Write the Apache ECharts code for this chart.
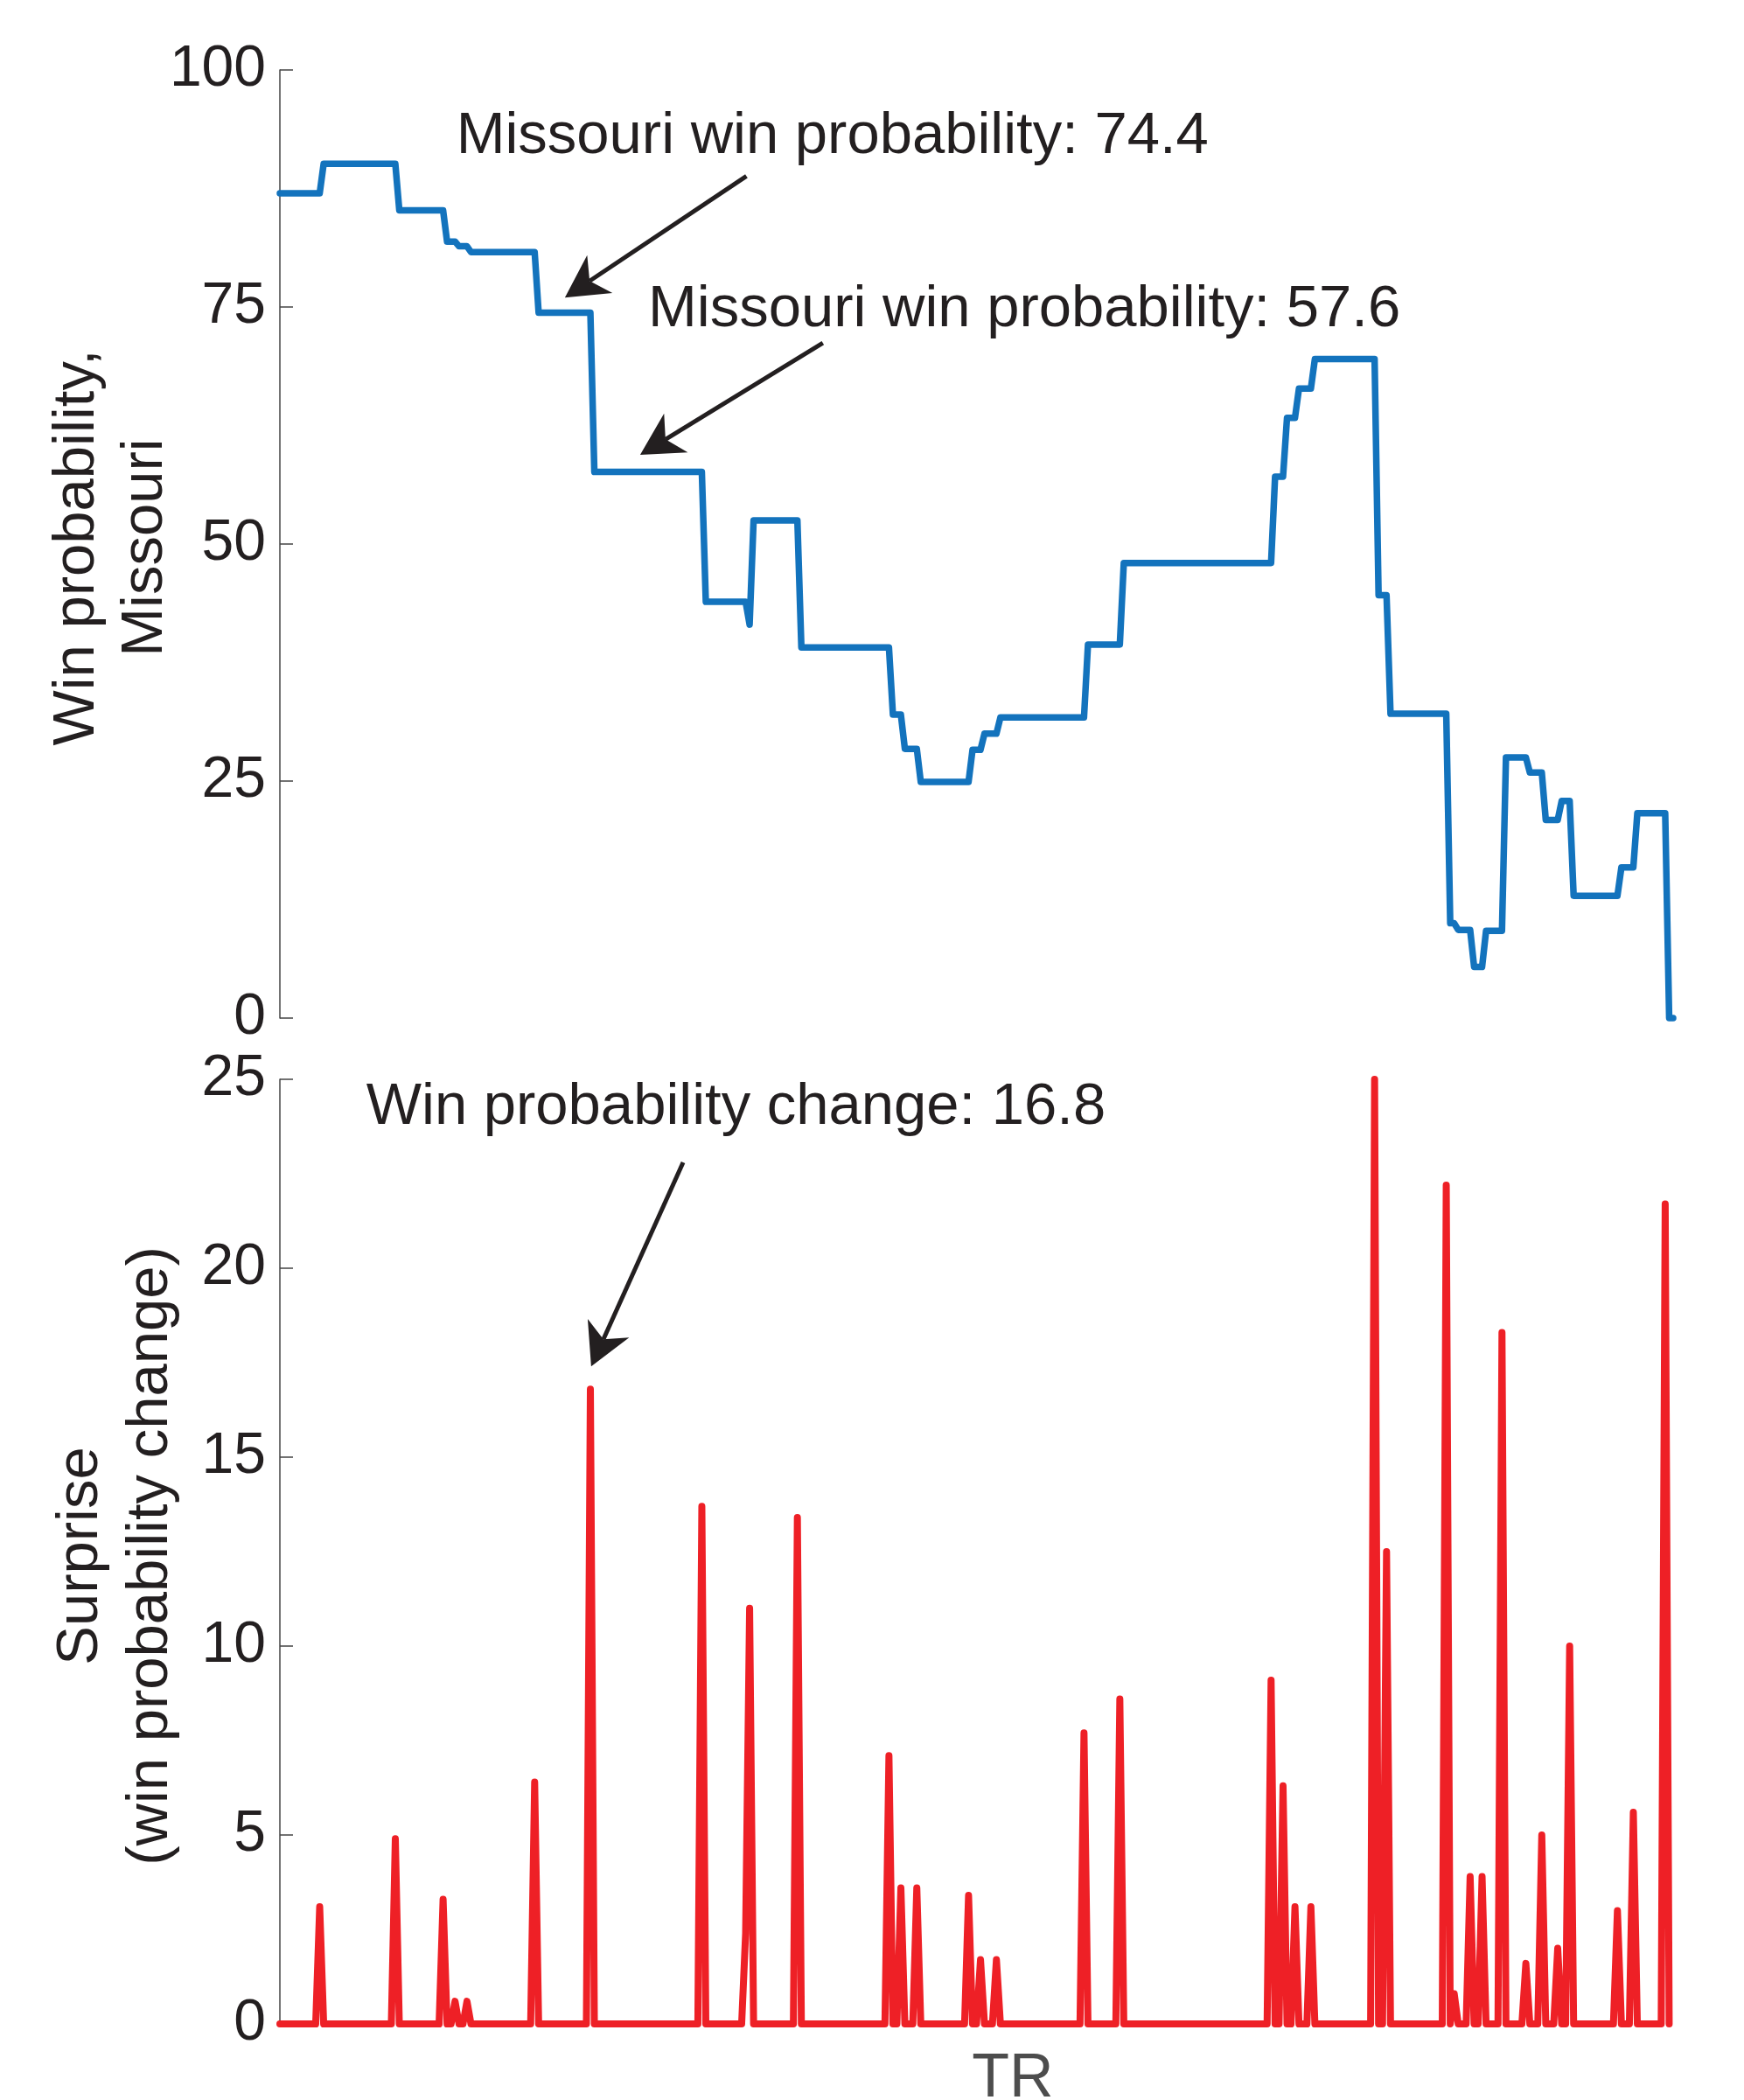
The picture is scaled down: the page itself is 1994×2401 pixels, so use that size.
<!DOCTYPE html>
<html>
<head>
<meta charset="utf-8">
<title>Win probability and surprise</title>
<script src="https://cdn.jsdelivr.net/npm/echarts@6/dist/echarts.min.js"></script>
<style>
  html, body { margin: 0; padding: 0; background: #fff; }
  #chart { width: 1994px; height: 2401px; }
</style>
</head>
<body>
<div id="chart"></div>
<script>
// plays where Missouri's win probability moved (the surprise spike sits on the same play)
const changePlay = [10, 29, 41, 44, 47, 64, 78, 106, 117, 118, 130, 153, 156, 160, 173, 176, 180, 202, 211,
  249, 252, 255, 259, 275, 278, 293, 295, 299, 302, 307, 313, 317, 321, 324, 336, 340, 348]
// win probability, Missouri: value at kickoff, then the value after each change
const winProb = [87.0, 90.1, 85.2, 81.9, 81.4, 80.8, 74.4, 57.6, 43.9, 41.5, 52.5, 39.1, 32.0, 28.4, 24.9,
  28.3, 30.0, 31.7, 39.4, 48.0, 57.1, 63.3, 66.4, 69.5, 44.6, 32.1, 10.0, 9.3, 5.4, 9.2, 27.5, 25.9, 20.9,
  22.9, 12.9, 15.9, 21.6, 0]
// surprise (win probability change) at each change
const surprise = [3.1, 4.9, 3.3, 0.6, 0.6, 6.4, 16.8, 13.7, 2.4, 11.0, 13.4, 7.1, 3.6, 3.6, 3.4, 1.7, 1.7,
  7.7, 8.6, 9.1, 6.3, 3.1, 3.1, 25.0, 12.5, 22.2, 0.8, 3.9, 3.9, 18.3, 1.6, 5.0, 2.0, 10.0, 3.0, 5.6, 21.7]
const lastPlay = 350
const winTicks = [0, 25, 50, 75, 100]
const surpriseTicks = [0, 5, 10, 15, 20, 25]

const FONT = '"Liberation Sans", Arial, Helvetica, sans-serif'
const INK = '#231f20'
const BLUE = '#1373bd'
const RED = '#ee2026'

// annotations, anchored in data coordinates of their grid
const notes = [
  { grid: 0, text: 'Missouri win probability: 74.4', at: [44.3, 92.9], tail: [117.2, 88.8], tip: [71.6, 76.0] },
  { grid: 0, text: 'Missouri win probability: 57.6', at: [92.5, 74.7], tail: [136.4, 71.2], tip: [90.5, 59.4] },
  { grid: 1, text: 'Win probability change: 16.8', at: [21.7, 24.24], tail: [101.3, 22.8], tip: [78.2, 17.4] }
]

function winLine() {
  const pts = [[0, winProb[0]]]
  changePlay.forEach((p, i) => {
    pts.push([p, winProb[i]])
    pts.push([p + 1, winProb[i + 1]])
  })
  pts.push([lastPlay, winProb[winProb.length - 1]])
  return pts
}

function surpriseLine() {
  const pts = [[0, 0]]
  changePlay.forEach((p, i) => {
    if (pts[pts.length - 1][0] < p - 1) pts.push([p - 1, 0])
    pts.push([p, surprise[i]])
    if (changePlay[i + 1] !== p + 1) pts.push([p + 1, 0])
  })
  return pts
}

function yAxis(gridIndex, ticks) {
  return {
    type: 'value',
    gridIndex: gridIndex,
    min: ticks[0],
    max: ticks[ticks.length - 1],
    interval: ticks[1] - ticks[0],
    axisLine: { show: true, lineStyle: { color: '#444', width: 1.5 } },
    axisTick: { show: true, inside: true, length: 15, lineStyle: { color: '#444', width: 1.5 } },
    axisLabel: { color: INK, fontSize: 66, fontFamily: FONT, margin: 16 },
    splitLine: { show: false }
  }
}

function xAxis(gridIndex) {
  return { type: 'value', gridIndex: gridIndex, min: 0, max: lastPlay, show: false }
}

const chart = echarts.init(document.getElementById('chart'), null, { renderer: 'canvas' })

chart.setOption({
  animation: false,
  backgroundColor: '#fff',
  grid: [
    { left: 320, right: 81, top: 80, height: 1084 },
    { left: 320, right: 81, top: 1234, height: 1080 }
  ],
  xAxis: [xAxis(0), xAxis(1)],
  yAxis: [yAxis(0, winTicks), yAxis(1, surpriseTicks)],
  series: [
    {
      type: 'line',
      xAxisIndex: 0,
      yAxisIndex: 0,
      data: winLine(),
      showSymbol: false,
      clip: false,
      lineStyle: { color: BLUE, width: 7.5, cap: 'round', join: 'round' }
    },
    {
      type: 'line',
      xAxisIndex: 1,
      yAxisIndex: 1,
      data: surpriseLine(),
      showSymbol: false,
      clip: false,
      lineStyle: { color: RED, width: 8, cap: 'round', join: 'round' }
    }
  ]
})

// arrow from tail to tip, with a notched head
function arrow(gi, tail, tip) {
  const a = chart.convertToPixel({ gridIndex: gi }, tail)
  const b = chart.convertToPixel({ gridIndex: gi }, tip)
  const dx = b[0] - a[0]
  const dy = b[1] - a[1]
  const len = Math.hypot(dx, dy)
  const ux = dx / len
  const uy = dy / len
  const nx = -uy
  const ny = ux
  const L = 48
  const W = 26
  const notch = 34
  const back = [b[0] - ux * L, b[1] - uy * L]
  const head = [
    b,
    [back[0] + nx * W, back[1] + ny * W],
    [b[0] - ux * notch, b[1] - uy * notch],
    [back[0] - nx * W, back[1] - ny * W]
  ]
  return [
    {
      type: 'line',
      shape: { x1: a[0], y1: a[1], x2: b[0] - ux * notch, y2: b[1] - uy * notch },
      style: { stroke: INK, lineWidth: 5 }
    },
    { type: 'polygon', shape: { points: head }, style: { fill: INK } }
  ]
}

const graphics = []
notes.forEach((n) => {
  const pos = chart.convertToPixel({ gridIndex: n.grid }, n.at)
  graphics.push({
    type: 'text',
    x: pos[0],
    y: pos[1],
    style: { text: n.text, fontSize: 67, fontFamily: FONT, fill: INK, align: 'left', verticalAlign: 'middle' }
  })
  graphics.push(...arrow(n.grid, n.tail, n.tip))
})

// axis titles
graphics.push({
  type: 'text',
  x: 128,
  y: 626,
  rotation: Math.PI / 2,
  style: { text: 'Win probability,\nMissouri', fontSize: 67, fontFamily: FONT, fill: INK, align: 'center', verticalAlign: 'middle', lineHeight: 78 }
})
graphics.push({
  type: 'text',
  x: 133,
  y: 1779,
  rotation: Math.PI / 2,
  style: { text: 'Surprise\n(win probability change)', fontSize: 67, fontFamily: FONT, fill: INK, align: 'center', verticalAlign: 'middle', lineHeight: 80 }
})
graphics.push({
  type: 'text',
  x: 1158,
  y: 2378,
  style: { text: 'TR', fontSize: 70, fontFamily: FONT, fill: '#4d4d4d', align: 'center', verticalAlign: 'middle' }
})

chart.setOption({ graphic: graphics })
</script>
</body>
</html>
